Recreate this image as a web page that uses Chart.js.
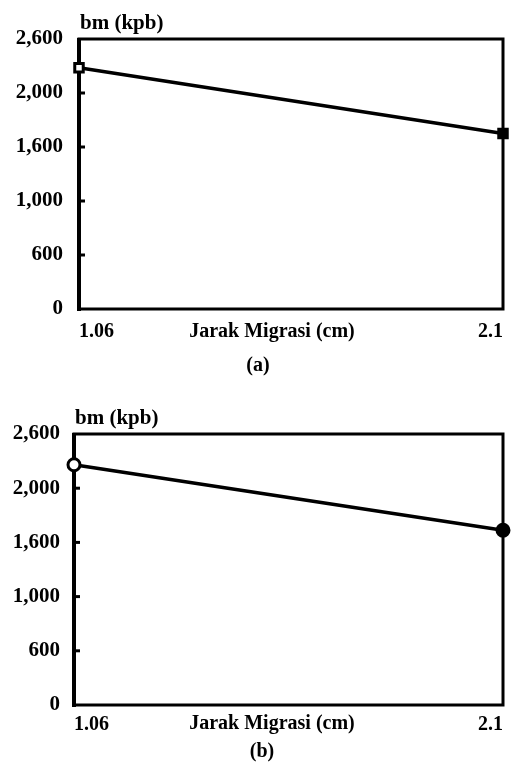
<!DOCTYPE html>
<html>
<head>
<meta charset="utf-8">
<script src="https://cdn.jsdelivr.net/npm/chart.js@4.4.0/dist/chart.umd.min.js"></script>
<style>
  html, body { margin: 0; padding: 0; background: #fff; }
  .panel { position: absolute; left: 0; width: 514px; }
  #pa { top: 0; height: 386px; }
  #pb { top: 386px; height: 387px; }
</style>
</head>
<body>
<div class="panel" id="pa"><canvas id="chart-a"></canvas></div>
<div class="panel" id="pb"><canvas id="chart-b"></canvas></div>
<script>
// jarak migrasi (cm) vs berat molekul (kpb)
const xValues = [1.06, 2.1];
const yTickValues = [0, 600, 1000, 1600, 2000, 2600];
const yTickLabels = ["0", "600", "1,000", "1,600", "2,000", "2,600"];
const bmA = [2280, 1700];
const bmB = [2260, 1690];

const FONT = "'Liberation Serif', 'Times New Roman', serif";

// sumbu y di gambar asli berjarak sama antar label, jadi nilai dipetakan per segmen
function toPos(v) {
  for (let i = 0; i < yTickValues.length - 1; i++) {
    const a = yTickValues[i], b = yTickValues[i + 1];
    if (v <= b) return i + (v - a) / (b - a);
  }
  return yTickValues.length - 1;
}

const framePlugin = {
  id: "frame",
  beforeDatasetsDraw(chart, args, o) {
    const { ctx, chartArea: ca } = chart;
    const y = chart.scales.y;
    ctx.save();
    ctx.strokeStyle = "#000";
    ctx.lineWidth = 3;
    ctx.strokeRect(ca.left, ca.top, ca.right - ca.left, ca.bottom - ca.top);
    ctx.lineWidth = 4;
    ctx.beginPath();
    ctx.moveTo(ca.left, ca.top - 1);
    ctx.lineTo(ca.left, ca.bottom + 2);
    ctx.stroke();
    ctx.lineWidth = 3;
    for (let i = 1; i < yTickValues.length - 1; i++) {
      const py = y.getPixelForValue(i);
      ctx.beginPath();
      ctx.moveTo(ca.left, py);
      ctx.lineTo(ca.left + 6, py);
      ctx.stroke();
    }
    ctx.restore();
  },
  afterDraw(chart, args, o) {
    const { ctx, chartArea: ca } = chart;
    ctx.save();
    ctx.fillStyle = "#000";
    ctx.font = "bold 21px " + FONT;
    ctx.textBaseline = "middle";
    ctx.textAlign = "left";
    ctx.fillText("bm (kpb)", ca.left + 1, ca.top - 15);
    ctx.font = "bold 20px " + FONT;
    ctx.textAlign = "center";
    ctx.fillText("Jarak Migrasi (cm)", o.titleX, ca.bottom + o.titleDy);
    ctx.fillText(o.caption, o.capX, ca.bottom + o.capDy);
    ctx.restore();
  },
};

function build(id, data, cfg) {
  const ctx = document.getElementById(id).getContext("2d");
  return new Chart(ctx, {
    type: "line",
    data: {
      datasets: [
        {
          data: xValues.map((x, i) => ({ x, y: toPos(data[i]) })),
          borderColor: "#000",
          borderWidth: 3.5,
          pointStyle: cfg.pointStyle,
          pointRadius: cfg.pointRadius,
          pointBorderWidth: 3,
          pointBorderColor: "#000",
          pointBackgroundColor: ["#fff", "#000"],
          clip: false,
          tension: 0,
        },
      ],
    },
    options: {
      responsive: true,
      maintainAspectRatio: false,
      animation: false,
      layout: { padding: { top: cfg.top, right: cfg.right, left: 0, bottom: 0 } },
      scales: {
        x: {
          type: "linear",
          min: xValues[0],
          max: xValues[xValues.length - 1],
          afterBuildTicks: (s) => { s.ticks = xValues.map((v) => ({ value: v })); },
          afterFit: (s) => { s.height = cfg.xHeight; },
          grid: { display: false, drawTicks: false },
          border: { display: false },
          ticks: {
            align: "inner",
            padding: cfg.xPad,
            color: "#000",
            font: { family: FONT, size: 20, weight: "bold" },
            callback: (v) => String(v),
          },
        },
        y: {
          min: 0,
          max: yTickValues.length - 1,
          afterFit: (s) => { s.width = cfg.yWidth; },
          grid: { display: false, drawTicks: false },
          border: { display: false },
          ticks: {
            stepSize: 1,
            padding: cfg.yPad,
            color: "#000",
            font: { family: FONT, size: 21, weight: "bold" },
            callback: (v) => yTickLabels[v],
          },
        },
      },
      plugins: {
        legend: { display: false },
        tooltip: { enabled: false },
        frame: cfg.frame,
      },
    },
    plugins: [framePlugin],
  });
}

build("chart-a", bmA, {
  pointStyle: "rect", pointRadius: 6,
  top: 39, right: 10, yWidth: 79, yPad: 16, xHeight: 77, xPad: 11,
  frame: { caption: "(a)", titleX: 272, titleDy: 23, capX: 258, capDy: 57 },
});

build("chart-b", bmB, {
  pointStyle: "circle", pointRadius: 6,
  top: 48, right: 11, yWidth: 74, yPad: 14, xHeight: 68, xPad: 8,
  frame: { caption: "(b)", titleX: 272, titleDy: 19, capX: 262, capDy: 47 },
});
</script>
</body>
</html>
